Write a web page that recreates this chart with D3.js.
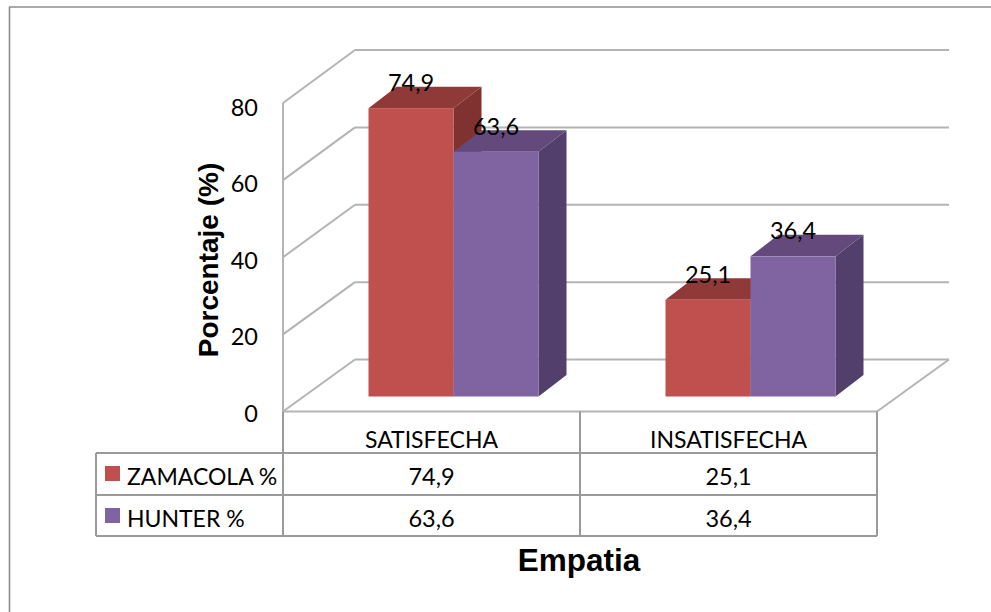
<!DOCTYPE html>
<html><head><meta charset="utf-8">
<script src="https://cdn.jsdelivr.net/npm/d3@7/dist/d3.min.js"></script>
<style>html,body{margin:0;padding:0;background:#fff}svg{display:block}text{font-family:Lato,"Open Sans",sans-serif;fill:#000}</style>
</head><body><svg id="c" width="991" height="612"></svg>
<script>
const categories = ["SATISFECHA", "INSATISFECHA"];
const seriesNames = ["ZAMACOLA %", "HUNTER %"];
const zamacola = [74.9, 25.1];
const hunter = [63.6, 36.4];
const valueLabels = [["74,9", "25,1"], ["63,6", "36,4"]];
const yTicks = [0, 20, 40, 60, 80];
const faceColors = ["#C0504D", "#8064A2"];
const topColors = ["#8F3A38", "#63497C"];
const sideColors = ["#7F3230", "#533F6B"];
const xTitle = "Empatia";
const yTitle = "Porcentaje (%)";

const svg = d3.select("#c");
const grid = "#b4b4b4", tableLine = "#9a9a9a";
const barDX = 28, barDY = 21.5;
const yFront = d3.scaleLinear().domain([0, 80]).range([411.5, 103]);
const yBack = d3.scaleLinear().domain([0, 80]).range([359.5, 50]);
const yBar = d3.scaleLinear().domain([0, 80]).range([396.5, 88.5]);
const yLabel = d3.scaleLinear().domain([0, 80]).range([421.5, 116]);
const x0 = d3.scaleBand().domain(categories).range([283, 877]);
const x1 = d3.scaleBand().domain([0, 1]).range([85.5, 85.5 + 170]);
const depthX = 72;

const line = (x1_, y1_, x2_, y2_, c, w) => svg.append("line")
  .attr("x1", x1_).attr("y1", y1_).attr("x2", x2_).attr("y2", y2_)
  .attr("stroke", c).attr("stroke-width", w);

// frame
line(9, 7, 991, 7, "#8c8c8c", 1.6);
line(9.5, 7, 9.5, 612, "#8c8c8c", 1.6);

// walls and gridlines
const xL = x0.range()[0], xR = x0.range()[1];
yTicks.forEach(t => {
  line(xL, yFront(t), xL + depthX, yBack(t), grid, 2);
  line(xL + depthX, yBack(t), xR + depthX, yBack(t), grid, 2);
});
line(xL, yFront(0), xL, yFront(80), grid, 2);
line(xL, yFront(0), xR, yFront(0), grid, 2);
line(xR, yFront(0), xR + depthX, yBack(0), grid, 2);

// bars
[zamacola, hunter].forEach((vals, s) => {
  categories.forEach((cat, i) => {
    const left = x0(cat) + x1(s), w = x1.bandwidth();
    const bottom = yBar(0), top = yBar(vals[i]);
    const g = svg.append("g");
    g.append("polygon").attr("fill", sideColors[s]).attr("points", [
      [left + w, top], [left + w + barDX, top - barDY],
      [left + w + barDX, bottom - barDY], [left + w, bottom]].join(" "));
    g.append("polygon").attr("fill", topColors[s]).attr("points", [
      [left, top], [left + barDX, top - barDY],
      [left + w + barDX, top - barDY], [left + w, top]].join(" "));
    g.append("rect").attr("x", left).attr("y", top).attr("width", w)
      .attr("height", bottom - top).attr("fill", faceColors[s]);
  });
});
// data labels
[zamacola, hunter].forEach((vals, s) => {
  categories.forEach((cat, i) => {
    const left = x0(cat) + x1(s), w = x1.bandwidth();
    svg.append("text").attr("x", left + w / 2)
      .attr("y", yBar(vals[i]) - 17)
      .attr("text-anchor", "middle").attr("font-size", 23.5).text(valueLabels[s][i]);
  });
});

// y axis labels
yTicks.forEach(t => {
  svg.append("text").attr("x", 258).attr("y", yLabel(t))
    .attr("text-anchor", "end").attr("font-size", 23.5).text(String(t));
});

// data table
const tableLeft = 96, rows = [453, 495, 536];
line(xL, yFront(0), xL, rows[2], tableLine, 2);
line(x0(categories[1]), yFront(0), x0(categories[1]), rows[2], tableLine, 2);
line(xR, yFront(0), xR, rows[2], tableLine, 2);
line(tableLeft, rows[0], tableLeft, rows[2], tableLine, 2);
rows.forEach(r => line(tableLeft, r, xR, r, tableLine, 2));
categories.forEach(cat => {
  svg.append("text").attr("x", x0(cat) + x0.bandwidth() / 2).attr("y", 448)
    .attr("text-anchor", "middle").attr("font-size", 23).text(cat);
});
seriesNames.forEach((name, s) => {
  const base = rows[s] + 31.5;
  svg.append("rect").attr("x", 105).attr("y", rows[s] + 13).attr("width", 15).attr("height", 15).attr("fill", faceColors[s]);
  svg.append("text").attr("x", 127).attr("y", base).attr("font-size", 23).text(name);
  categories.forEach((cat, i) => {
    svg.append("text").attr("x", x0(cat) + x0.bandwidth() / 2).attr("y", base)
      .attr("text-anchor", "middle").attr("font-size", 23.5).text(valueLabels[s][i]);
  });
});

// axis titles
svg.append("text").attr("x", 579).attr("y", 571).attr("text-anchor", "middle")
  .style("font-family", "'Liberation Sans',Arial,sans-serif").attr("font-weight", "bold").attr("font-size", 31.5).text(xTitle);
svg.append("text").attr("transform", "translate(218,260) rotate(-90)").attr("text-anchor", "middle")
  .style("font-family", "'Liberation Sans',Arial,sans-serif").attr("font-weight", "bold").attr("font-size", 28).text(yTitle);
</script></body></html>
